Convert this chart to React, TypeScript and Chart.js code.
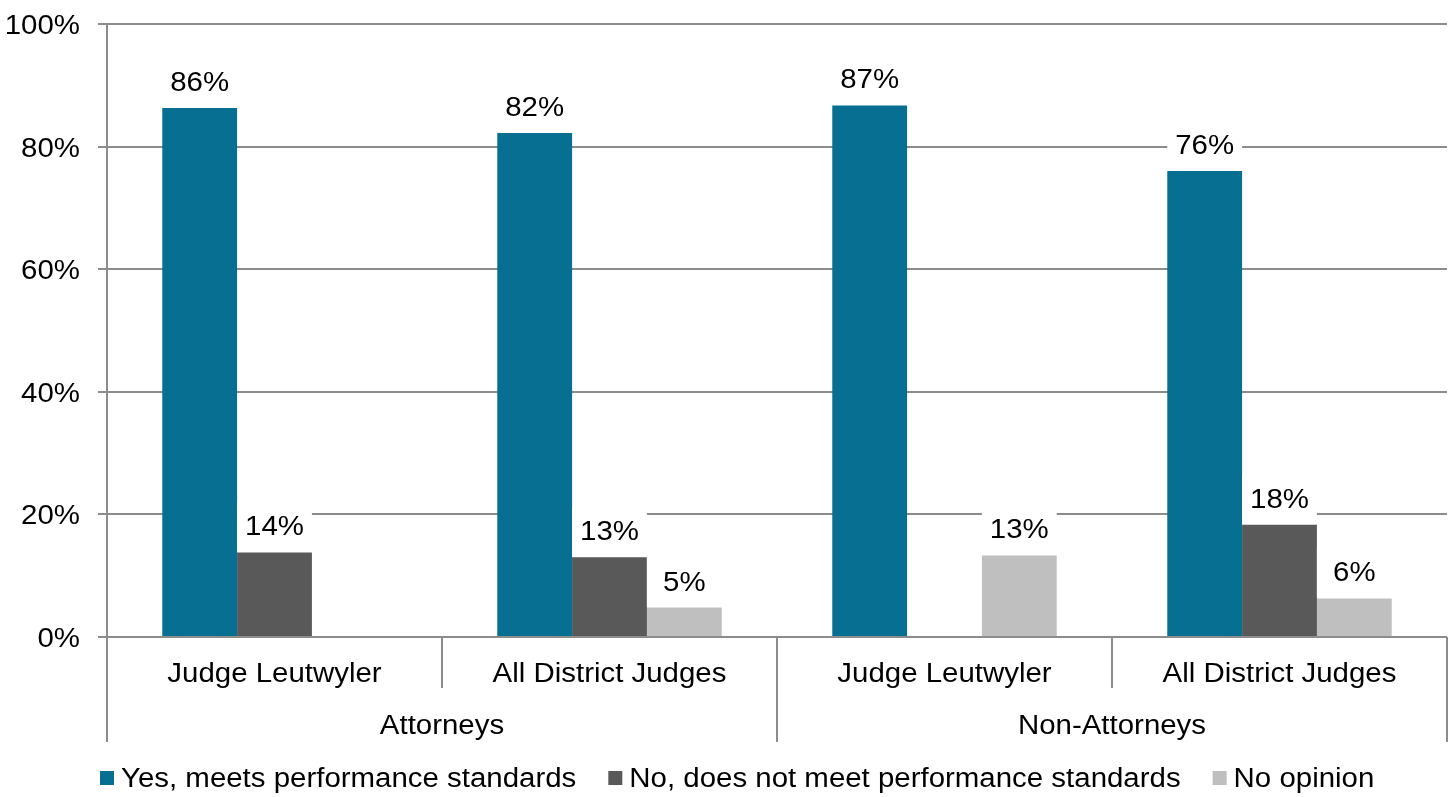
import React, { useEffect, useRef } from "react";
import { Chart, registerables } from "chart.js";

Chart.register(...registerables);

const subCategories = ["Judge Leutwyler", "All District Judges", "Judge Leutwyler", "All District Judges"];
const groups = ["Attorneys", "Non-Attorneys"];
const groupSizes = [2, 2];
const seriesNames = ["Yes, meets performance standards", "No, does not meet performance standards", "No opinion"];
const yesValues = [86.3, 82.2, 86.7, 76.0];
const noValues: (number | null)[] = [13.8, 13.0, null, 18.3];
const noOpinionValues: (number | null)[] = [null, 4.8, 13.3, 6.3];
const seriesColors = ["#066F92", "#595959", "#BFBFBF"];
const yTicks = [0, 20, 40, 60, 80, 100];

const FONT = "'Liberation Sans', Arial, sans-serif";
const FONT_SIZE = 27;
const GRID = "#8c8c8c";
const SX = 1.09;
const DY = 2.5;

function drawText(ctx: CanvasRenderingContext2D, text: string, x: number, y: number, align: CanvasTextAlign) {
  ctx.save();
  ctx.translate(x, y + DY);
  ctx.scale(SX, 1);
  ctx.textAlign = align;
  ctx.textBaseline = "middle";
  ctx.fillText(text, 0, 0);
  ctx.restore();
}

const overlayPlugin = {
  id: "overlay",
  afterDatasetsDraw(chart: any) {
    const ctx = chart.ctx;
    ctx.save();
    ctx.font = `${FONT_SIZE}px ${FONT}`;
    chart.data.datasets.forEach((ds: any, di: number) => {
      const meta = chart.getDatasetMeta(di);
      meta.data.forEach((bar: any, i: number) => {
        const v = ds.data[i];
        if (v === null || v === undefined) return;
        const w = bar.width;
        ctx.fillStyle = "#fff";
        ctx.fillRect(bar.x - w / 2, bar.y - 50, w, 49);
        ctx.fillStyle = "#000";
        drawText(ctx, Math.round(v) + "%", bar.x, bar.y - 27, "center");
      });
    });
    ctx.restore();
  },
  afterDraw(chart: any) {
    const ctx = chart.ctx;
    const area = chart.chartArea;
    const yScale = chart.scales.y;
    const n = subCategories.length;
    const cw = (area.right - area.left) / n;
    ctx.save();
    ctx.font = `${FONT_SIZE}px ${FONT}`;
    ctx.fillStyle = "#000";
    yTicks.forEach((v) => {
      drawText(ctx, v + "%", 80, yScale.getPixelForValue(v), "right");
    });
    ctx.strokeStyle = GRID;
    ctx.lineWidth = 2;
    let idx = 0;
    const groupBounds: number[] = [0];
    groupSizes.forEach((s) => {
      idx += s;
      groupBounds.push(idx);
    });
    for (let i = 0; i <= n; i++) {
      const x = Math.round(area.left + cw * i);
      const isGroup = groupBounds.includes(i);
      ctx.beginPath();
      ctx.moveTo(x, area.bottom);
      ctx.lineTo(x, isGroup ? area.bottom + 105 : area.bottom + 51);
      ctx.stroke();
    }
    subCategories.forEach((lab, i) => {
      drawText(ctx, lab, area.left + cw * (i + 0.5), area.bottom + 35, "center");
    });
    groups.forEach((g, gi) => {
      const a = groupBounds[gi];
      const b = groupBounds[gi + 1];
      drawText(ctx, g, area.left + (cw * (a + b)) / 2, area.bottom + 87, "center");
    });
    let x = 100;
    const y = 778;
    seriesNames.forEach((name, i) => {
      ctx.fillStyle = seriesColors[i];
      ctx.fillRect(x, y - 7, 14, 14);
      ctx.fillStyle = "#000";
      drawText(ctx, name, x + 21, y - 1, "left");
      x += 21 + ctx.measureText(name).width * SX + 32;
    });
    ctx.restore();
  },
};

export default function App() {
  const ref = useRef<HTMLCanvasElement>(null);
  useEffect(() => {
    if (!ref.current) return;
    const chart = new Chart(ref.current, {
      type: "bar",
      data: {
        labels: subCategories,
        datasets: [
          { label: seriesNames[0], data: yesValues, backgroundColor: seriesColors[0] },
          { label: seriesNames[1], data: noValues, backgroundColor: seriesColors[1] },
          { label: seriesNames[2], data: noOpinionValues, backgroundColor: seriesColors[2] },
        ],
      },
      options: {
        animation: false,
        responsive: false,
        maintainAspectRatio: false,
        layout: { padding: { top: 24, right: 6, left: 0, bottom: 0 } },
        datasets: { bar: { categoryPercentage: 0.67, barPercentage: 1 } },
        plugins: { legend: { display: false }, tooltip: { enabled: false } },
        scales: {
          x: {
            grid: { display: false },
            border: { display: false },
            ticks: { display: false },
            afterFit: (s: any) => {
              s.height = 160;
            },
          },
          y: {
            min: 0,
            max: 100,
            afterBuildTicks: (s: any) => {
              s.ticks = yTicks.map((v) => ({ value: v }));
            },
            grid: { color: GRID, lineWidth: 2, tickLength: 9 },
            border: { display: true, color: GRID, width: 2 },
            ticks: { display: false },
            afterFit: (s: any) => {
              s.width = 107;
            },
          },
        },
      },
      plugins: [overlayPlugin],
    } as any);
    return () => chart.destroy();
  }, []);
  return (
    <div style={{ position: "fixed", left: 0, top: 0, width: 1453, height: 797, background: "#fff" }}>
      <canvas ref={ref} width={1453} height={797} style={{ width: 1453, height: 797 }} />
    </div>
  );
}
